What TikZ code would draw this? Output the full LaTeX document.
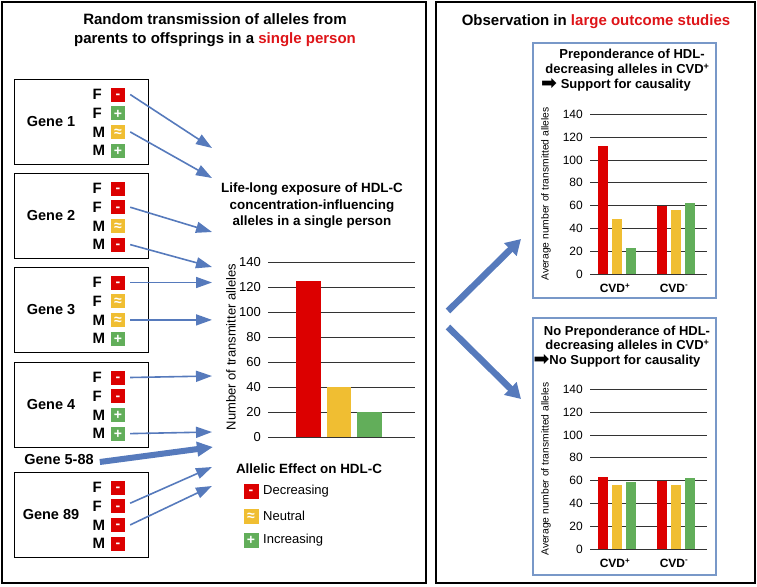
\documentclass[tikz,border=0pt]{standalone}
\usepackage{fontspec}
\setmainfont{Liberation Sans}
\newfontfamily\dejavu{DejaVu Sans}
\usetikzlibrary{arrows.meta}
\definecolor{cred}{RGB}{220,0,0}
\definecolor{cyel}{RGB}{240,190,50}
\definecolor{cgrn}{RGB}{98,174,90}
\definecolor{ablue}{RGB}{86,122,188}
\definecolor{bblue}{RGB}{120,152,200}
\definecolor{tred}{RGB}{222,20,24}
\newcommand\symdec{\raisebox{-3.9pt}[0pt][0pt]{-}}
\newcommand\symneu{\raisebox{-4.6pt}[0pt][0pt]{≈}}
\newcommand\syminc{\raisebox{-4.8pt}[0pt][0pt]{+}}
\newcommand\blkarr{{\dejavu\fontsize{19}{13}\selectfont\raisebox{-1pt}{➡}}}
\newcommand\smallchart[8]{%
  \foreach \v in {0,20,...,140}{
    \draw[grid] (590,{#2-1.14*\v}) -- (707,{#2-1.14*\v});
    \node[stick] (#1t\v) at (583,{#2-1.14*\v}) {\v};
  }
  \fill[cred] (598,#2) rectangle (608,{#2-1.14*#3});
  \fill[cyel] (612,#2) rectangle (622,{#2-1.14*#4});
  \fill[cgrn] (626,#2) rectangle (636,{#2-1.14*#5});
  \fill[cred] (657,#2) rectangle (667,{#2-1.14*#6});
  \fill[cyel] (671,#2) rectangle (681,{#2-1.14*#7});
  \fill[cgrn] (685,#2) rectangle (695,{#2-1.14*#8});
  \node[cvd] (#1p) at (615,#2+14) {CVD\textsuperscript{+}};
  \node[cvd] (#1m) at (674,#2+14) {CVD\textsuperscript{-}};
  \node[sylab, rotate=90] (#1y) at (546,#2-80) {Average number of transmitted alleles};
}
\begin{document}
\begin{tikzpicture}[x=1pt,y=-1pt,
  panel/.style={draw=black, line width=2.5pt},
  genebox/.style={draw=black, line width=0.9pt, minimum width=134pt, minimum height=85pt, inner sep=0pt},
  genelab/.style={font=\bfseries\fontsize{14.5}{16}\selectfont, inner sep=0pt},
  letter/.style={font=\bfseries\fontsize{15}{16}\selectfont, anchor=west, inner sep=0pt},
  allele/.style={minimum size=14pt, inner sep=0pt, text=white, font=\bfseries\fontsize{14}{14}\selectfont},
  dec/.style={allele, fill=cred},
  neu/.style={allele, fill=cyel},
  inc/.style={allele, fill=cgrn},
  arr/.style={draw=ablue, line width=1.6pt, -{Triangle[length=16pt,width=11pt]}},
  bigarr/.style={draw=ablue, line width=6pt, -{Triangle[length=16pt,width=14pt]}},
  grid/.style={draw=black!80, line width=0.8pt},
  tick/.style={font=\fontsize{13}{14}\selectfont, anchor=east, inner sep=0pt},
  stick/.style={font=\fontsize{12}{13}\selectfont, anchor=east, inner sep=0pt},
  sylab/.style={font=\fontsize{10.3}{11}\selectfont, inner sep=0pt},
  cvd/.style={font=\bfseries\fontsize{12}{13}\selectfont, inner sep=0pt},
  btitle/.style={font=\bfseries\fontsize{13}{14}\selectfont, inner sep=0pt},
  resbox/.style={draw=bblue, line width=2pt, minimum width=183pt, inner sep=0pt}
]
\useasboundingbox (0,0) rectangle (757,586);
% panels
\draw[panel] (2,2) rectangle (426,583);
\draw[panel] (436,2) rectangle (755,583);
% titles
\node[font=\bfseries\fontsize{15}{19}\selectfont, align=center, inner sep=0pt] (ltitle) at (215,30.5)
  {Random transmission of alleles from\\parents to offsprings in a \textcolor{tred}{single person}};
\node[font=\bfseries\fontsize{15}{19}\selectfont, inner sep=0pt] (rtitle) at (596,22)
  {Observation in \textcolor{tred}{large outcome studies}};
% gene boxes
\foreach \gid/\gtop/\glab/\alle in {
  a/79/Gene 1/{F/dec,F/inc,M/neu,M/inc},
  b/173/Gene 2/{F/dec,F/dec,M/neu,M/dec},
  c/267/Gene 3/{F/dec,F/neu,M/neu,M/inc},
  d/362/Gene 4/{F/dec,F/dec,M/inc,M/inc},
  e/472/Gene 89/{F/dec,F/dec,M/dec,M/dec}}{
  \node[genebox] (box\gid) at (81,\gtop+42.5) {};
  \node[genelab] (lab\gid) at (51,\gtop+42.5) {\glab};
  \foreach \L/\S [count=\i] in \alle {
    \node[letter] (\gid L\i) at (92.5,{\gtop+15.5+(\i-1)*18.7}) {\L};
    \node[\S] (\gid\i) at (118,{\gtop+15.5+(\i-1)*18.7}) {\csname sym\S\endcsname};
  }
}
\node[genelab] (labmid) at (59,460) {Gene 5-88};
% arrow targets
\coordinate (ta1) at (212,148);
\coordinate (ta3) at (212,178);
\coordinate (tb2) at (212,232);
\coordinate (tb4) at (212,267);
\coordinate (tc1) at (212,282.5);
\coordinate (tc3) at (212,319.9);
\coordinate (td1) at (212,376);
\coordinate (td4) at (212,432);
\coordinate (tmid) at (213,447);
\coordinate (te2) at (212,467);
\coordinate (te3) at (212,486);
\draw[arr] ([xshift=5pt]a1.east) -- (ta1);
\draw[arr] ([xshift=5pt]a3.east) -- (ta3);
\draw[arr] ([xshift=5pt]b2.east) -- (tb2);
\draw[arr] ([xshift=5pt]b4.east) -- (tb4);
\draw[arr] ([xshift=5pt]c1.east) -- (tc1);
\draw[arr] ([xshift=5pt]c3.east) -- (tc3);
\draw[arr] ([xshift=5pt]d1.east) -- (td1);
\draw[arr] ([xshift=5pt]d4.east) -- (td4);
\draw[arr] ([xshift=5pt,yshift=3pt]e2.east) -- (te2);
\draw[arr] ([xshift=5pt]e3.east) -- (te3);
\draw[bigarr] ([xshift=6pt,yshift=-2pt]labmid.east) -- (tmid);
% middle chart
\node[font=\bfseries\fontsize{13.4}{16.5}\selectfont, align=center, inner sep=0pt] (mtitle) at (312,206)
  {Life-long exposure of HDL-C\\concentration-influencing\\alleles in a single person};
\foreach \v in {0,20,...,140}{
  \draw[grid] (268,{437-1.25*\v}) -- (415,{437-1.25*\v});
  \node[tick] (m\v) at (261,{437-1.25*\v}) {\v};
}
\fill[cred] (296,437) rectangle (321,{437-1.25*125});
\fill[cyel] (327,437) rectangle (351,{437-1.25*40});
\fill[cgrn] (357,437) rectangle (382,{437-1.25*20});
\node[font=\fontsize{13}{14}\selectfont, rotate=90, inner sep=0pt] (mylab) at (231,347) {Number of transmitter alleles};
% legend
\node[font=\bfseries\fontsize{13.4}{15}\selectfont, inner sep=0pt] (legt) at (309,469) {Allelic Effect on HDL-C};
\node[dec, minimum size=15pt] (lg1) at (251,491) {\symdec};
\node[neu, minimum size=15pt] (lg2) at (251,516) {\symneu};
\node[inc, minimum size=15pt] (lg3) at (251,540) {\syminc};
\node[font=\fontsize{13}{14}\selectfont, anchor=west, inner sep=0pt] (lgt1) at (263,491) {Decreasing};
\node[font=\fontsize{13}{14}\selectfont, anchor=west, inner sep=0pt] (lgt2) at (263,516) {Neutral};
\node[font=\fontsize{13}{14}\selectfont, anchor=west, inner sep=0pt] (lgt3) at (263,540) {Increasing};
% right panel arrows
\coordinate (rs1) at (448,311);
\coordinate (rt1) at (521,239);
\coordinate (rs2) at (448,327);
\coordinate (rt2) at (521,399);
\draw[draw=ablue, line width=6.5pt, -{Triangle[length=15pt,width=17pt]}] (rs1) -- (rt1);
\draw[draw=ablue, line width=6.5pt, -{Triangle[length=15pt,width=17pt]}] (rs2) -- (rt2);
% result boxes
\node[resbox, minimum height=255pt] (boxtop) at (624.5,170.5) {};
\node[resbox, minimum height=257pt] (boxbot) at (624.5,446.5) {};
\node[btitle] (tt1) at (632,55) {Preponderance of HDL-};
\node[btitle] (tt2) at (627.5,70) {decreasing alleles in CVD\textsuperscript{+}};
\node[btitle] (tt3) at (616,85) {\blkarr\ Support for causality};
\node[btitle] (bt1) at (627,332) {No Preponderance of HDL-};
\node[btitle] (bt2) at (627.5,346.5) {decreasing alleles in CVD\textsuperscript{+}};
\node[btitle] (bt3) at (617,361) {\blkarr No Support for causality};
\smallchart{t}{274}{112}{48}{23}{60}{56}{62}
\smallchart{b}{549}{63}{56}{59}{60}{56}{62}
\end{tikzpicture}
\end{document}
